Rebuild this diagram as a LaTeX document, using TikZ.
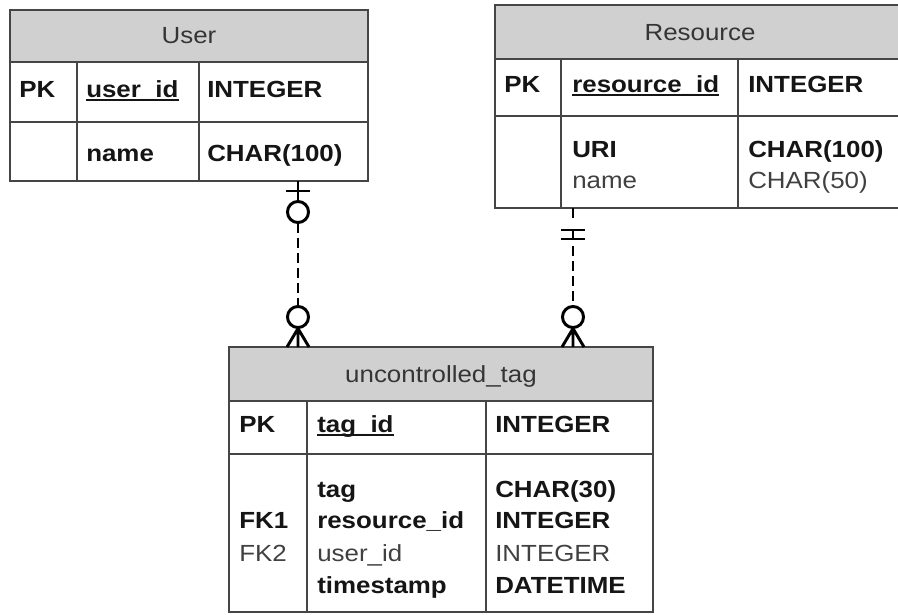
\documentclass[tikz,border=0pt]{standalone}
\usepackage{fontspec}
\setmainfont{Liberation Sans}[FakeStretch=1.11]
\usetikzlibrary{calc}
\definecolor{hdrfill}{HTML}{D0D0D0}
\definecolor{rulegray}{HTML}{454545}
\definecolor{txtbold}{HTML}{151515}
\definecolor{txtlight}{HTML}{404040}
\definecolor{hdrtxt}{HTML}{353535}
\tikzset{
  tablerule/.style={draw=rulegray, line width=1.6pt},
  hdr/.style={fill=hdrfill},
  fld/.style={anchor=base west, inner sep=0pt, text=txtbold,
    font=\fontsize{17.5}{21}\selectfont\bfseries},
  fldlight/.style={fld, text=txtlight, font=\fontsize{17.5}{21}\selectfont},
  title/.style={anchor=base, inner sep=0pt, text=hdrtxt,
    font=\fontsize{17.5}{21}\selectfont},
  keyline/.style={draw=txtbold, line width=1.2pt},
  rel/.style={draw=black, line width=2.2pt},
  reldash/.style={rel, dash pattern=on 7.5pt off 3.8pt},
  endcircle/.style={rel, radius=7.9pt},
}
\begin{document}
\begin{tikzpicture}[x=0.75pt, y=-0.75pt]
\useasboundingbox (0,0) rectangle (898,614);
\clip (0,0) rectangle (898,614);

% ---------- User ----------
\fill[hdr] (10,10) rectangle (368,62);
\draw[tablerule] (10,10) rectangle (368,181);
\draw[tablerule] (10,62) -- (368,62) (10,122) -- (368,122)
  (77,62) -- (77,181) (199,62) -- (199,181);
\node[title] (user-title) at (189,43) {User};
\node[fld] (user-pk) at (19,97) {PK};
\node[fld] (user-id) at (86,97) {user\_id};
\draw[keyline] ([yshift=-2.4pt]user-id.base west) -- ([yshift=-2.4pt]user-id.base east);
\node[fld] (user-idtype) at (207,97) {INTEGER};
\node[fld] (user-name) at (86,161) {name};
\node[fld] (user-nametype) at (207,161) {CHAR(100)};

% ---------- Resource ----------
\fill[hdr] (495,5) rectangle (906,59);
\draw[tablerule] (906,5) -- (495,5) -- (495,208) -- (906,208);
\draw[tablerule] (495,59) -- (906,59) (495,116) -- (906,116)
  (561,59) -- (561,208) (738,59) -- (738,208);
\node[title] (res-title) at (700,40) {Resource};
\node[fld] (res-pk) at (504,92) {PK};
\node[fld] (res-id) at (572,92) {resource\_id};
\draw[keyline] ([yshift=-2.4pt]res-id.base west) -- ([yshift=-2.4pt]res-id.base east);
\node[fld] (res-idtype) at (748,92) {INTEGER};
\node[fld] (res-uri) at (572,157) {URI};
\node[fldlight] (res-name) at (572,188) {name};
\node[fld] (res-uritype) at (748,157) {CHAR(100)};
\node[fldlight] (res-nametype) at (748,188) {CHAR(50)};

% ---------- uncontrolled_tag ----------
\fill[hdr] (229,347) rectangle (653,401);
\draw[tablerule] (229,347) rectangle (653,612);
\draw[tablerule] (229,401) -- (653,401) (229,454) -- (653,454)
  (307,401) -- (307,612) (486,401) -- (486,612);
\node[title] (tag-title) at (441,382) {uncontrolled\_tag};
\node[fld] (tag-pk) at (239,432) {PK};
\node[fld] (tag-id) at (317,432) {tag\_id};
\draw[keyline] ([yshift=-2.4pt]tag-id.base west) -- ([yshift=-2.4pt]tag-id.base east);
\node[fld] (tag-idtype) at (495,432) {INTEGER};
\node[fld] (tag-tag) at (317,497) {tag};
\node[fld] (tag-tagtype) at (495,497) {CHAR(30)};
\node[fld] (tag-fk1) at (239,528) {FK1};
\node[fld] (tag-res) at (317,528) {resource\_id};
\node[fld] (tag-restype) at (495,528) {INTEGER};
\node[fldlight] (tag-fk2) at (239,561) {FK2};
\node[fldlight] (tag-user) at (317,561) {user\_id};
\node[fldlight] (tag-usertype) at (495,561) {INTEGER};
\node[fld] (tag-ts) at (317,593) {timestamp};
\node[fld] (tag-tstype) at (495,593) {DATETIME};

% ---------- relationship ends ----------
\coordinate (user-end) at (298,181);
\coordinate (tag-user-end) at (298,347);
\coordinate (res-end) at (573,208);
\coordinate (tag-res-end) at (573,347);

% User (one, optional) to uncontrolled_tag (many, optional)
\draw[rel] (user-end) -- ($(user-end)+(0,20.5)$);
\draw[rel] ($(user-end)+(-12,10)$) -- ($(user-end)+(12,10)$);
\draw[endcircle] ($(user-end)+(0,31)$) circle;
\draw[reldash] ($(user-end)+(0,41.5)$) -- ($(tag-user-end)+(0,-40.5)$);
\draw[endcircle] ($(tag-user-end)+(0,-30)$) circle;
\draw[rel] ($(tag-user-end)+(0,-19.5)$) -- (tag-user-end)
  ($(tag-user-end)+(0,-18.5)$) -- ($(tag-user-end)+(-11,0)$)
  ($(tag-user-end)+(0,-18.5)$) -- ($(tag-user-end)+(11,0)$);

% Resource (exactly one) to uncontrolled_tag (many, optional)
\draw[rel] (res-end) -- ($(res-end)+(0,10)$);
\draw[rel] ($(res-end)+(-12,22)$) -- ($(res-end)+(12,22)$);
\draw[rel] ($(res-end)+(-12,31)$) -- ($(res-end)+(12,31)$);
\draw[rel] ($(res-end)+(0,22)$) -- ($(res-end)+(0,31)$);
\draw[reldash] ($(res-end)+(0,38)$) -- ($(tag-res-end)+(0,-40.5)$);
\draw[endcircle] ($(tag-res-end)+(0,-30)$) circle;
\draw[rel] ($(tag-res-end)+(0,-19.5)$) -- (tag-res-end)
  ($(tag-res-end)+(0,-18.5)$) -- ($(tag-res-end)+(-11,0)$)
  ($(tag-res-end)+(0,-18.5)$) -- ($(tag-res-end)+(11,0)$);
\end{tikzpicture}
\end{document}
